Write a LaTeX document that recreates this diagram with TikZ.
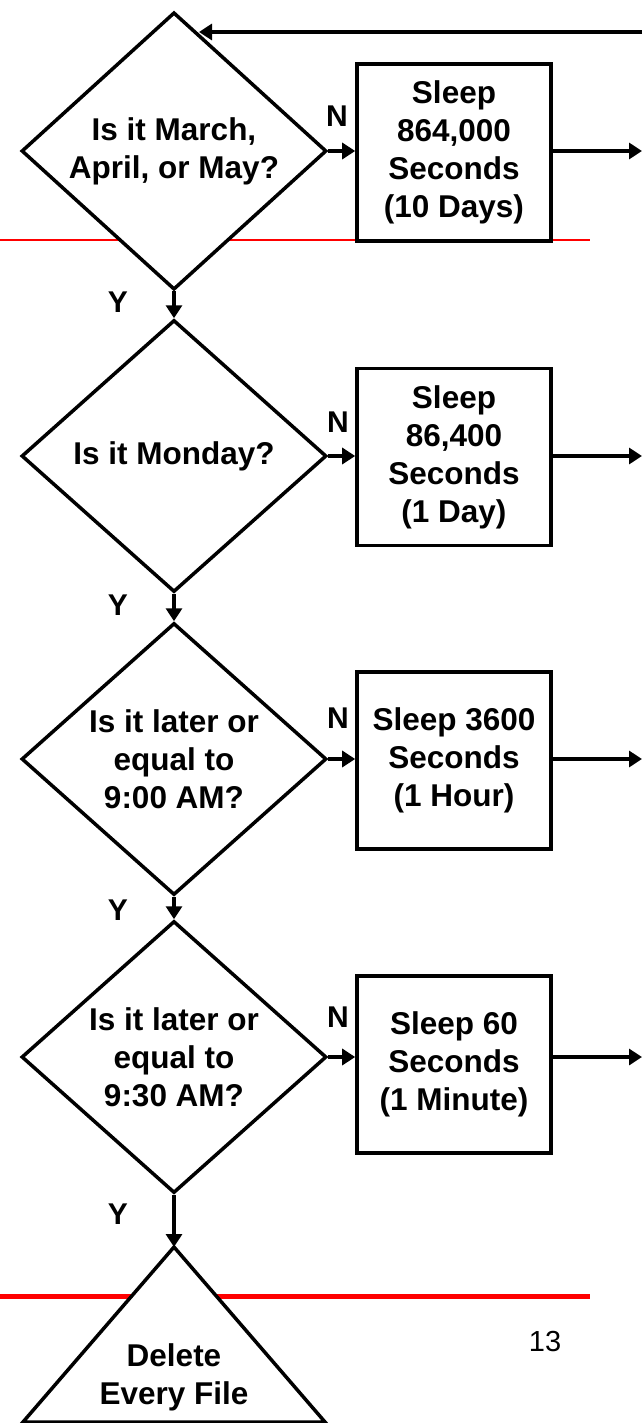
\documentclass[tikz,border=0pt]{standalone}
\usepackage{fontspec}
\setmainfont{Liberation Sans}
\usetikzlibrary{shapes.geometric,arrows.meta}
\begin{document}
\begin{tikzpicture}[x=1pt,y=-1pt,
  txt/.style={font=\fontsize{31.5}{38}\selectfont\bfseries, align=center},
  decision/.style={diamond, draw, line width=3.5pt, fill=white, minimum width=305pt, minimum height=272pt, inner sep=0pt, txt},
  sleepbox/.style={rectangle, draw, line width=3.6pt, fill=white, minimum width=194pt, minimum height=177pt, inner sep=0pt, txt},
  flow/.style={line width=3.2pt, -{Triangle[length=13pt,width=16pt]}},
  lbl/.style={font=\fontsize{30}{36}\selectfont\bfseries, inner sep=0pt},
  redline/.style={draw=red, line cap=butt}
]
\useasboundingbox[fill=white] (0,0) rectangle (642,1423);

% red rules (behind the shapes)
\coordinate (rA) at (0,240);   \coordinate (rB) at (590,240);
\coordinate (rC) at (0,1296);  \coordinate (rD) at (590,1296);
\draw[redline, line width=1.5pt] (rA) -- (rB);
\draw[redline, line width=5pt] (rC) -- (rD);

% decisions
\node[decision] (d1) at (174,151) {Is it March,\\April, or May?};
\node[decision] (d2) at (174,456) {Is it Monday?};
\node[decision] (d3) at (174,759) {Is it later or\\equal to\\9:00 AM?};
\node[decision] (d4) at (174,1057) {Is it later or\\equal to\\9:30 AM?};

% sleep boxes
\node[sleepbox] (b1) at (454,152.5) {Sleep\\864,000\\Seconds\\(10 Days)};
\node[sleepbox] (b2) at (454,457) {Sleep\\86,400\\Seconds\\(1 Day)};
\node[sleepbox] (b3) at (454,760.5) {Sleep 3600\\Seconds\\(1 Hour)};
\node[sleepbox] (b4) at (454,1064.5) {Sleep 60\\Seconds\\(1 Minute)};

% final triangle
\coordinate (tA) at (174,1247);
\coordinate (tL) at (23,1422);
\coordinate (tR) at (325,1422);
\filldraw[fill=white, line width=3.5pt, line join=miter] (tA) -- (tR) -- (tL) -- cycle;
\node[txt] (del) at (174,1377) {Delete\\Every File};

% right edge and feedback
\coordinate (edge) at (642,0);
\coordinate (back) at (642,32);
\coordinate (backend) at (199,32);
\draw[flow] (back) -- (backend);

% N arrows
\draw[flow] (d1.east) -- (d1.east -| b1.west);
\draw[flow] (d2.east) -- (d2.east -| b2.west);
\draw[flow] (d3.east) -- (d3.east -| b3.west);
\draw[flow] (d4.east) -- (d4.east -| b4.west);

% box exit arrows
\draw[flow] (b1.east |- d1.east) -- (edge |- d1.east);
\draw[flow] (b2.east |- d2.east) -- (edge |- d2.east);
\draw[flow] (b3.east |- d3.east) -- (edge |- d3.east);
\draw[flow] (b4.east |- d4.east) -- (edge |- d4.east);

% Y arrows
\draw[flow] (d1.south) -- (d2.north);
\draw[flow] (d2.south) -- (d3.north);
\draw[flow] (d3.south) -- (d4.north);
\draw[flow] (d4.south) -- (tA);

% labels
\node[lbl] (n1) at (337,116) {N};
\node[lbl] (n2) at (338,422) {N};
\node[lbl] (n3) at (338,718) {N};
\node[lbl] (n4) at (338,1017) {N};
\node[lbl] (y1) at (118,302) {Y};
\node[lbl] (y2) at (118,605) {Y};
\node[lbl] (y3) at (118,910) {Y};
\node[lbl] (y4) at (118,1214) {Y};

\node[font=\fontsize{29}{34}\selectfont, inner sep=0pt] (pg) at (545,1342) {13};
\end{tikzpicture}
\end{document}
